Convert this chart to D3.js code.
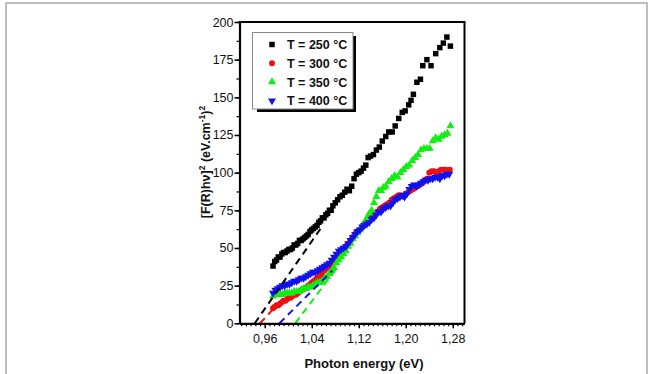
<!DOCTYPE html>
<html>
<head>
<meta charset="utf-8">
<script src="https://cdn.jsdelivr.net/npm/d3@7"></script>
<style>
html,body{margin:0;padding:0;background:#fff;}
svg{display:block;font-family:"Liberation Sans",Arial,Helvetica,sans-serif;}
</style>
</head>
<body>
<svg id="chart" width="653" height="374"></svg>
<script>
// ---------- data ----------
const seriesNames = ["T = 250 °C", "T = 300 °C", "T = 350 °C", "T = 400 °C"];
const xTickValues = [0.96, 1.04, 1.12, 1.20, 1.28];
const yTickValues = [0, 25, 50, 75, 100, 125, 150, 175, 200];

const e250 = [0.974,0.977,0.980,0.983,0.986,0.989,0.992,0.995,0.998,1.001,1.004,1.007,1.010,1.013,1.016,1.019,1.022,1.025,1.028,1.031,1.034,1.037,1.040,1.043,1.046,1.049,1.052,1.055,1.058,1.061,1.064,1.067,1.070,1.073,1.076,
  1.080,1.084,1.088,1.092,1.096,1.100,1.104,1.108,1.112,1.116,1.120,1.124,1.128,1.132,1.136,1.140,
  1.145,1.150,1.155,1.160,1.166,1.171,1.177,1.182,1.188,1.194,1.199,1.205,
  1.209,1.213,1.219,1.225,1.229,1.236,1.243,1.251,1.258,1.264,1.270,1.276];
const v250 = [38,41,42,44,44,46,47,47,48,49,49,50,52,52,53,55,55,56,57,58,59,61,62,63,64,65,67,68,70,70,72,73,75,75,78,
  80,82,84,85,87,89,88,91,96,99,100,101,103,105,110,111,
  112,115,117,121,124,127,127,131,136,140,141,145,
  148,152,160,162,171,175,171,179,183,186,190,184];

const e300 = [0.974,0.977,0.980,0.983,0.986,0.989,0.992,0.995,0.998,1.001,1.004,1.007,1.010,1.013,1.016,1.019,1.022,1.025,1.028,1.031,1.034,1.037,1.040,1.043,1.046,1.049,1.052,1.055,1.058,1.061,1.064,1.067,1.070,1.073,1.076,1.079,1.082,1.085,1.088,1.091,1.094,1.097,1.100,1.103,1.106,1.109,1.112,1.115,1.118,1.121,1.124,1.127,1.130,1.133,1.136,
  1.140,1.144,1.148,1.152,1.156,1.160,1.164,1.168,1.172,1.176,1.180,1.184,1.188,1.192,1.196,1.200,1.204,1.208,1.212,1.216,1.220,1.224,1.228,1.232,1.236,1.240,1.244,1.248,1.252,1.256,1.260,1.264,1.268,1.272,1.275];
const v300 = [10,11,12,12,13,14,15,15,16,17,17,18,19,19,20,21,22,23,23,24,25,26,27,28,29,30,31,32,33,35,36,37,38,40,41,42,44,45,46,47,49,50,52,53,55,57,58,60,61,62,63,65,66,67,68,
  70,71,73,74,76,77,78,79,80,82,83,84,85,85,84,86,87,88,89,90,91,92,93,95,96,100,101,101,100,101,102,102,102,101,102];

const e350 = [0.974,0.978,0.982,0.986,0.990,0.994,0.998,1.002,1.006,1.010,1.014,1.018,1.022,1.026,1.030,1.034,1.038,1.042,1.046,1.050,1.054,1.058,1.062,1.066,1.070,1.074,1.078,1.082,1.086,1.090,1.094,1.098,1.102,1.106,1.110,1.114,1.118,1.122,1.126,1.130,1.134,1.138,1.142,1.146,1.150,1.154,1.158,1.162,1.166,
  1.171,1.176,1.181,1.186,1.191,1.196,1.201,1.206,1.211,1.216,1.221,1.226,1.231,1.236,1.241,1.246,1.251,1.256,1.261,1.266,1.271,1.276];
const v350 = [18,19,19,19,19,20,20,20,20,21,21,21,22,23,23,24,24,25,26,27,27,28,30,31,33,35,37,40,42,44,46,48,51,53,56,58,60,62,65,67,70,73,75,80,84,88,88,90,91,
  94,96,98,97,100,102,104,105,108,110,112,115,116,116,116,121,123,122,124,125,126,131];

const e400 = [0.974,0.978,0.982,0.986,0.990,0.994,0.998,1.002,1.006,1.010,1.014,1.018,1.022,1.026,1.030,1.034,1.038,1.042,1.046,1.050,1.054,1.058,1.062,1.066,1.070,1.074,1.078,1.082,1.086,1.090,1.094,1.098,1.102,1.106,1.110,1.114,1.118,1.122,1.126,1.130,1.134,1.138,1.142,1.146,1.150,1.154,1.158,1.162,1.166,1.170,1.174,1.178,1.182,1.186,1.190,1.194,1.198,1.202,1.206,1.210,1.214,1.218,1.222,1.226,1.230,1.234,1.238,1.242,1.246,1.250,1.254,1.258,1.262,1.266,1.270,1.274];
const v400 = [20,22,23,24,25,25,26,26,27,28,28,29,30,30,31,32,33,34,34,35,36,37,38,39,40,42,44,46,48,49,50,51,53,55,57,59,61,62,64,65,66,67,69,70,72,74,74,76,77,78,78,80,82,83,84,85,84,86,89,91,92,91,92,93,94,95,95,96,96,97,97,96,98,98,99,99];

// linear extrapolation lines (dashed)
const fitE250 = [0.943, 1.057], fitV250 = [0, 64];
const fitE300 = [0.952, 0.985], fitV300 = [0, 14];
const fitE350 = [1.012, 1.085], fitV350 = [0, 38];
const fitE400 = [0.985, 1.075], fitV400 = [0, 35];

// ---------- drawing ----------
const svg = d3.select("#chart");
const colors = ["#000000", "#ee1111", "#11ee11", "#1111ee"];

// outer gray frame
svg.append("rect").attr("x", 6).attr("y", 3).attr("width", 641).attr("height", 385)
  .attr("fill", "none").attr("stroke", "#a8a8a8").attr("stroke-width", 1.5);

const L = 239.5, R = 464.5, T = 22, B = 323.3;
const x = d3.scaleLinear().domain([0.917, 1.30]).range([L, R]);
const y = d3.scaleLinear().domain([0, 200]).range([B, T]);

const plot = svg.append("g");

const symSquare = d3.symbol().type(d3.symbolSquare).size(30)();
const symCircle = d3.symbol().type(d3.symbolCircle).size(28)();
const symTri = d3.symbol().type(d3.symbolTriangle).size(28)();

const series = [
  {e: e250, v: v250, path: symSquare, rot: 0},
  {e: e300, v: v300, path: symCircle, rot: 0},
  {e: e350, v: v350, path: symTri, rot: 0},
  {e: e400, v: v400, path: symTri, rot: 180}
];

series.forEach((s, i) => {
  plot.append("g").selectAll("path").data(s.e.map((e, k) => [e, s.v[k]])).join("path")
    .attr("d", s.path)
    .attr("transform", d => `translate(${x(d[0])},${y(d[1])}) rotate(${s.rot})`)
    .attr("fill", colors[i]);
});

// dashed fit lines
const fits = [[fitE250, fitV250], [fitE300, fitV300], [fitE350, fitV350], [fitE400, fitV400]];
fits.forEach((f, i) => {
  plot.append("line")
    .attr("x1", x(f[0][0])).attr("y1", y(f[1][0]))
    .attr("x2", x(f[0][1])).attr("y2", y(f[1][1]))
    .attr("stroke", colors[i]).attr("stroke-width", 2)
    .attr("stroke-dasharray", "7,5");
});

// axes
const fmtX = d => d3.format(".2f")(d).replace(".", ",");
const minorX = d3.range(0.92, 1.301, 0.008);
const minorY = d3.range(0, 200.1, 12.5);

const gxMinor = svg.append("g").attr("transform", `translate(0,${B})`)
  .call(d3.axisBottom(x).tickValues(minorX).tickSize(3).tickFormat(""));
gxMinor.select(".domain").remove();
gxMinor.selectAll("line").attr("stroke", "#000").attr("stroke-width", 1.2);

const gx = svg.append("g").attr("transform", `translate(0,${B})`)
  .call(d3.axisBottom(x).tickValues(xTickValues).tickSize(5).tickSizeOuter(0).tickFormat(fmtX));
gx.select(".domain").attr("stroke-width", 2.2);
gx.selectAll("line").attr("stroke-width", 1.5);
gx.selectAll("text").attr("font-size", 12.5).attr("dy", "0.95em").attr("fill", "#111")
  .attr("font-family", "Liberation Sans, Arial, sans-serif");

const gyMinor = svg.append("g").attr("transform", `translate(${L},0)`)
  .call(d3.axisLeft(y).tickValues(minorY).tickSize(3).tickFormat(""));
gyMinor.select(".domain").remove();
gyMinor.selectAll("line").attr("stroke", "#000").attr("stroke-width", 1.2);

const gy = svg.append("g").attr("transform", `translate(${L},0)`)
  .call(d3.axisLeft(y).tickValues(yTickValues).tickSize(5).tickSizeOuter(0).tickFormat(d => d));
gy.select(".domain").attr("stroke-width", 2.2);
gy.selectAll("line").attr("stroke-width", 1.5);
gy.selectAll("text").attr("font-size", 12.5).attr("x", -6).attr("fill", "#111")
  .attr("font-family", "Liberation Sans, Arial, sans-serif");

// top and right frame
svg.append("line").attr("x1", L - 1).attr("x2", R + 1).attr("y1", T).attr("y2", T)
  .attr("stroke", "#000").attr("stroke-width", 2.2);
svg.append("line").attr("x1", R).attr("x2", R).attr("y1", T).attr("y2", B)
  .attr("stroke", "#000").attr("stroke-width", 2);

// axis titles
svg.append("text").attr("x", 364).attr("y", 368).attr("text-anchor", "middle")
  .attr("font-size", 13).attr("font-weight", "bold").attr("fill", "#111")
  .text("Photon energy (eV)");

const yt = svg.append("text").attr("transform", "translate(210,162) rotate(-90)")
  .attr("text-anchor", "middle").attr("font-size", 12.5).attr("font-weight", "bold").attr("fill", "#111");
yt.append("tspan").text("[F(R)hν]");
yt.append("tspan").attr("font-size", 8.5).attr("dy", -5).text("2");
yt.append("tspan").attr("dy", 5).text(" (eV.cm");
yt.append("tspan").attr("font-size", 8.5).attr("dy", -5).text("-1");
yt.append("tspan").attr("dy", 5).text(")");
yt.append("tspan").attr("font-size", 8.5).attr("dy", -5).text("2");

// legend
const lg = svg.append("g");
lg.append("rect").attr("x", 257).attr("y", 36).attr("width", 99).attr("height", 76).attr("fill", "#000");
lg.append("rect").attr("x", 252.5).attr("y", 32.5).attr("width", 100.5).attr("height", 76.5)
  .attr("fill", "#fff").attr("stroke", "#888").attr("stroke-width", 1);
const rowsY = [44.5, 63.3, 82, 100.7];
series.forEach((s, i) => {
  lg.append("path").attr("d", s.path)
    .attr("transform", `translate(272,${rowsY[i]}) rotate(${s.rot})`)
    .attr("fill", colors[i]);
  lg.append("text").attr("x", 287).attr("y", rowsY[i] + 4.5)
    .attr("font-size", 12.5).attr("font-weight", "bold").attr("fill", "#111")
    .text(seriesNames[i]);
});
</script>
</body>
</html>
